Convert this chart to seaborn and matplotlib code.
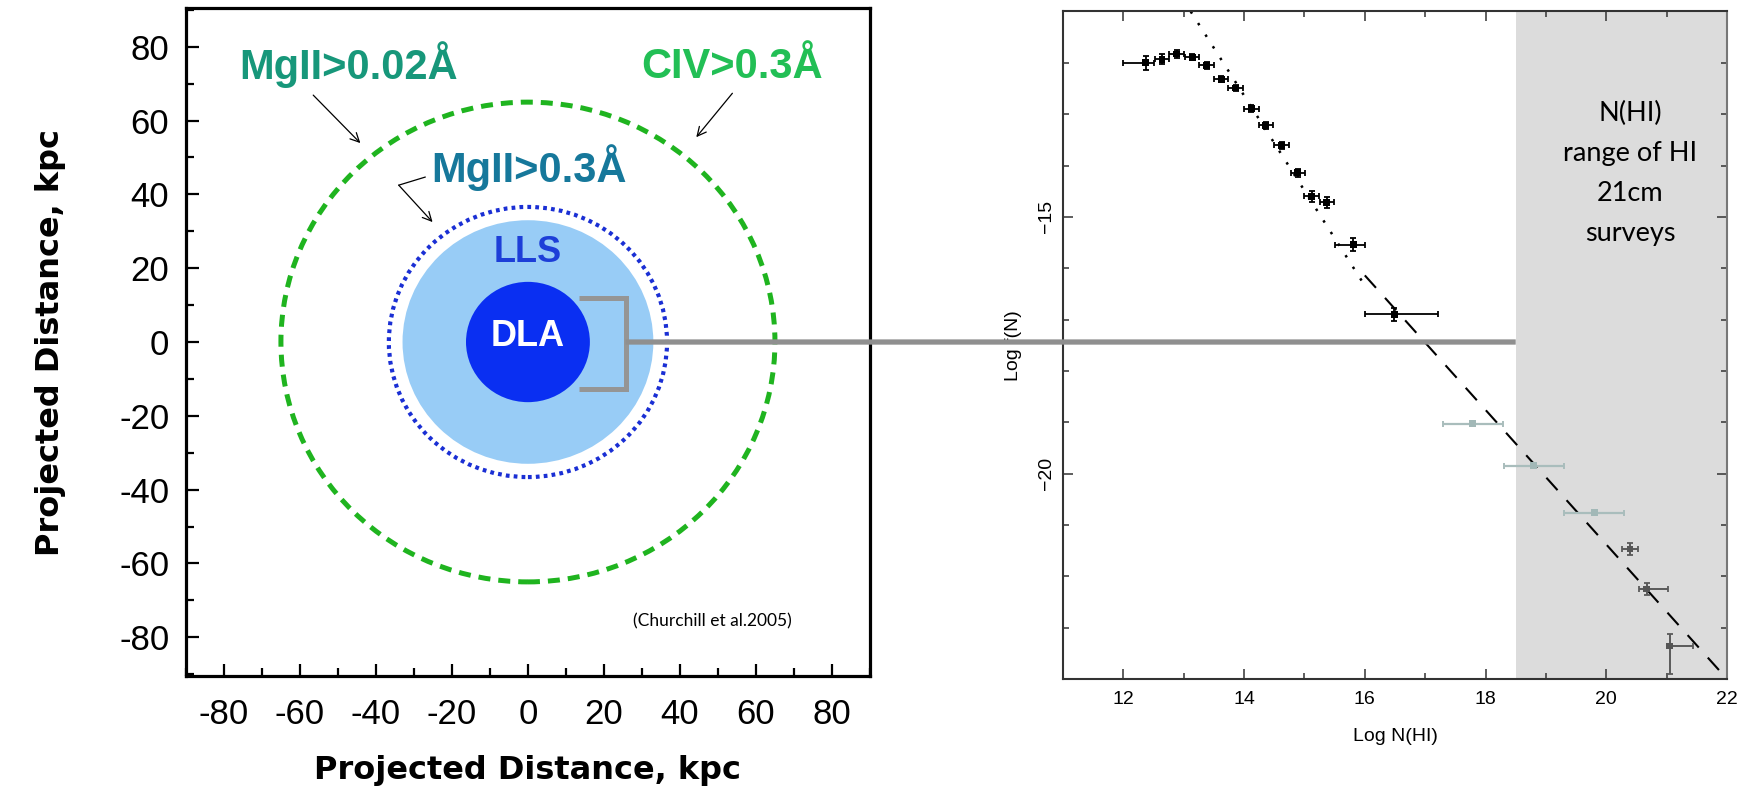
import numpy as np
import pandas as pd
import seaborn as sns
import matplotlib
matplotlib.use("Agg")
import matplotlib.pyplot as plt
from matplotlib.patches import Circle
from matplotlib.patches import ConnectionPatch
from matplotlib.ticker import MultipleLocator, FixedLocator
from matplotlib import font_manager as fm

# ---------------- data ----------------
# Left: absorber cross-section radii (kpc)
ring_labels = ["CIV>0.3Å / MgII>0.02Å", "MgII>0.3Å", "LLS", "DLA"]
ring_radii = [65.0, 36.6, 33.0, 16.3]

# Right: HI column density distribution, Log f(N) vs Log N(HI)
logN_main = [12.37, 12.64, 12.88, 13.14, 13.38, 13.62, 13.86, 14.12, 14.36,
             14.62, 14.89, 15.12, 15.37, 15.81, 16.49]
logf_main = [-12.00, -11.93, -11.83, -11.89, -12.05, -12.32, -12.49, -12.89,
             -13.22, -13.61, -14.14, -14.60, -14.72, -15.54, -16.90]
xerr_main_lo = [0.38, 0.12, 0.12, 0.12, 0.12, 0.12, 0.12, 0.12, 0.12,
                0.12, 0.12, 0.12, 0.12, 0.31, 0.49]
xerr_main_hi = [0.13, 0.12, 0.12, 0.12, 0.12, 0.12, 0.12, 0.12, 0.12,
                0.12, 0.12, 0.12, 0.12, 0.19, 0.72]
yerr_main = [0.14, 0.10, 0.07, 0.06, 0.07, 0.06, 0.06, 0.07, 0.07,
             0.07, 0.08, 0.11, 0.10, 0.12, 0.13]

logN_lls = [17.79, 18.80, 19.80]
logf_lls = [-19.03, -19.85, -20.76]
xerr_lls = [0.50, 0.50, 0.50]

logN_dla = [20.39, 20.67, 21.05]
logf_dla = [-21.47, -22.25, -23.36]
xerr_dla_lo = [0.13, 0.12, 0.00]
xerr_dla_hi = [0.13, 0.35, 0.39]
yerr_dla_lo = [0.11, 0.12, 0.54]
yerr_dla_hi = [0.11, 0.12, 0.24]

# power-law fits
fit_dot_x = [13.115, 16.0]
fit_dot_y = [-11.00, -16.34]
fit_dash_x = [16.0, 22.0]
fit_dash_y = [-16.14, -24.0]

survey_range = [18.5, 22.0]

# ---------------- style ----------------
sns.set_theme(style="white")
names = {f.name for f in fm.fontManager.ttflist}
NARROW = "Liberation Sans Narrow" if "Liberation Sans Narrow" in names else "Liberation Sans"
CALI = "Lato" if "Lato" in names else "DejaVu Sans"
plt.rcParams["font.family"] = ["Liberation Sans", "DejaVu Sans"]
plt.rcParams["axes.unicode_minus"] = True
for key in ("text.color", "axes.labelcolor", "xtick.color", "ytick.color"):
    plt.rcParams[key] = "black"

fig = plt.figure(figsize=(17.49, 8.02), dpi=100)
fig.patch.set_facecolor("white")

# ================= left panel =================
ax1 = fig.add_axes([0.1063, 0.1571, 0.3911, 0.8329])
ax1.set_xlim(-90, 90)
ax1.set_ylim(-90.5, 90.5)
ax1.set_facecolor("white")

green = "#1fb41f"
ax1.add_patch(Circle((0, 0), ring_radii[0], fill=False, edgecolor=green,
                     lw=3.6, linestyle=(0, (2.4, 1.6)), zorder=3))
ax1.add_patch(Circle((0, 0), ring_radii[2], facecolor="#98ccf6",
                     edgecolor="none", zorder=2))
ax1.add_patch(Circle((0, 0), ring_radii[1], fill=False, edgecolor="#1a2fd4",
                     lw=3.0, linestyle=(0, (0.9, 1.0)), zorder=3))
ax1.add_patch(Circle((0, 0), ring_radii[3], facecolor="#0a2ff2",
                     edgecolor="none", zorder=4))

ax1.text(0, 1.6, "DLA", color="white", fontsize=26, fontweight="bold",
         ha="center", va="center", zorder=5, family="Liberation Sans")
ax1.text(0, 21.7, "LLS", color="#1d3ed8", fontsize=26, fontweight="bold",
         ha="center", va="baseline", zorder=5, family=NARROW)
ax1.text(-47.1, 71.4, "MgII>0.02Å", color="#17977a", fontsize=30,
         fontweight="bold", ha="center", va="baseline")
ax1.text(53.8, 71.5, "CIV>0.3Å", color="#22bf55", fontsize=30,
         fontweight="bold", ha="center", va="baseline")
ax1.text(0.4, 43.4, "MgII>0.3Å", color="#16789b", fontsize=30,
         fontweight="bold", ha="center", va="baseline")
ax1.text(48.6, -75.7, "(Churchill et al.2005)", fontsize=12.5, family=CALI,
         ha="center", va="center", color="black")

arrow_kw = dict(arrowstyle="->", lw=0.9, color="black", mutation_scale=16,
                shrinkA=0, shrinkB=0)
ax1.annotate("", xy=(-44.1, 53.9), xytext=(-56.5, 66.9), arrowprops=arrow_kw)
ax1.annotate("", xy=(44.3, 55.5), xytext=(53.8, 67.4), arrowprops=arrow_kw)
ax1.plot([-27.0, -34.0], [44.7, 42.5], color="black", lw=0.9)
ax1.annotate("", xy=(-25.1, 32.5), xytext=(-34.0, 42.5), arrowprops=arrow_kw)

# bracket around the DLA
bracket_x = [13.4, 25.7, 25.7, 13.4]
bracket_y = [11.8, 11.8, -12.8, -12.8]
ax1.plot(bracket_x, bracket_y, color="#959595", lw=3.6, zorder=6,
         solid_joinstyle="miter", solid_capstyle="butt")

ax1.xaxis.set_major_locator(FixedLocator(np.arange(-80, 81, 20)))
ax1.yaxis.set_major_locator(FixedLocator(np.arange(-80, 81, 20)))
ax1.xaxis.set_minor_locator(MultipleLocator(10))
ax1.yaxis.set_minor_locator(MultipleLocator(10))
ax1.set_xticklabels([str(v) for v in range(-80, 81, 20)])
ax1.set_yticklabels([str(v) for v in range(-80, 81, 20)])
ax1.tick_params(axis="both", which="major", direction="in", length=9,
                width=1.6, color="black", labelsize=25, pad=12,
                top=False, right=False, bottom=True, left=True)
ax1.tick_params(axis="x", which="major", pad=16)
ax1.tick_params(axis="both", which="minor", direction="in", length=5.5,
                width=1.6, color="black", top=False, right=False,
                bottom=True, left=True)
for sp in ax1.spines.values():
    sp.set_color("black")
    sp.set_linewidth(2.3)
    sp.set_visible(True)

ax1.set_xlabel("Projected Distance, kpc", fontsize=23, fontweight="bold",
               family="DejaVu Sans")
ax1.set_ylabel("Projected Distance, kpc", fontsize=23, fontweight="bold",
               family="DejaVu Sans")
ax1.xaxis.set_label_coords(0.5, -0.118)
ax1.yaxis.set_label_coords(-0.176, 0.5)

# ================= right panel =================
ax2 = fig.add_axes([0.6078, 0.1534, 0.3796, 0.8323])
ax2.set_xlim(11, 22)
ax2.set_ylim(-24, -11)
ax2.set_facecolor("white")
ax2.axvspan(survey_range[0], survey_range[1], color="#dcdcdc", zorder=0, lw=0)

sns.lineplot(x=fit_dot_x, y=fit_dot_y, ax=ax2, color="black", lw=1.8,
             linestyle=(0, (1, 4.5)), zorder=2)
sns.lineplot(x=fit_dash_x, y=fit_dash_y, ax=ax2, color="black", lw=1.5,
             linestyle=(0, (8, 6.5)), zorder=2)

df_main = pd.DataFrame({"logN": logN_main, "logf": logf_main})
ax2.errorbar(logN_main, logf_main,
             xerr=[xerr_main_lo, xerr_main_hi], yerr=yerr_main,
             fmt="none", ecolor="black", elinewidth=1.3, capsize=2.5,
             capthick=1.3, zorder=3)
sns.scatterplot(data=df_main, x="logN", y="logf", ax=ax2, marker="s",
                s=24, color="black", edgecolor="none", zorder=4)

df_lls = pd.DataFrame({"logN": logN_lls, "logf": logf_lls})
ax2.errorbar(logN_lls, logf_lls, xerr=xerr_lls, fmt="none",
             ecolor="#a9bdbc", elinewidth=1.6, capsize=2.5, capthick=1.4,
             zorder=3)
sns.scatterplot(data=df_lls, x="logN", y="logf", ax=ax2, marker="s",
                s=26, color="#a2b8b7", edgecolor="none", zorder=4)

df_dla = pd.DataFrame({"logN": logN_dla, "logf": logf_dla})
ax2.errorbar(logN_dla, logf_dla, xerr=[xerr_dla_lo, xerr_dla_hi],
             yerr=[yerr_dla_lo, yerr_dla_hi], fmt="none", ecolor="#5a5a5a",
             elinewidth=1.4, capsize=2.5, capthick=1.3, zorder=3)
sns.scatterplot(data=df_dla, x="logN", y="logf", ax=ax2, marker="s",
                s=22, color="#555555", edgecolor="none", zorder=4)

ax2.text(20.4, -14.16, "N(HI)\nrange of HI\n21cm\nsurveys", family=CALI,
         fontsize=19.5, ha="center", va="center", linespacing=1.75,
         color="black")

ax2.xaxis.set_major_locator(MultipleLocator(2))
ax2.xaxis.set_minor_locator(MultipleLocator(1))
ax2.yaxis.set_major_locator(FixedLocator([-20, -15]))
ax2.yaxis.set_minor_locator(MultipleLocator(1))
ax2.tick_params(axis="both", which="major", direction="in", length=7,
                width=1.1, color="#333333", labelsize=14, pad=9,
                top=True, right=True, bottom=True, left=True)
ax2.tick_params(axis="both", which="minor", direction="in", length=4.5,
                width=1.1, color="#333333", top=True, right=True,
                bottom=True, left=True)
ax2.tick_params(axis="y", which="major", pad=6)
plt.setp(ax2.get_yticklabels(), rotation=90, va="center")
for sp in ax2.spines.values():
    sp.set_color("#333333")
    sp.set_linewidth(1.5)
    sp.set_visible(True)
ax2.spines["right"].set_color("#777777")

ax2.set_xlabel("Log N(HI)", fontsize=14)
ax2.set_ylabel("Log f(N)", fontsize=14)
ax2.xaxis.set_label_coords(0.5, -0.074)
ax2.yaxis.set_label_coords(-0.062, 0.5)

# connector from the DLA bracket to the shaded survey range
y_disp = ax1.transData.transform((bracket_x[1], 0.0))[1]
y_right = ax2.transData.inverted().transform((0.0, y_disp))[1]
con = ConnectionPatch(xyA=(bracket_x[1], 0.0), coordsA=ax1.transData,
                      xyB=(survey_range[0], y_right), coordsB=ax2.transData,
                      color="#8f8f8f", lw=3.8, zorder=10, capstyle="butt")
fig.add_artist(con)

fig.savefig("out.png", dpi=100, facecolor="white")
